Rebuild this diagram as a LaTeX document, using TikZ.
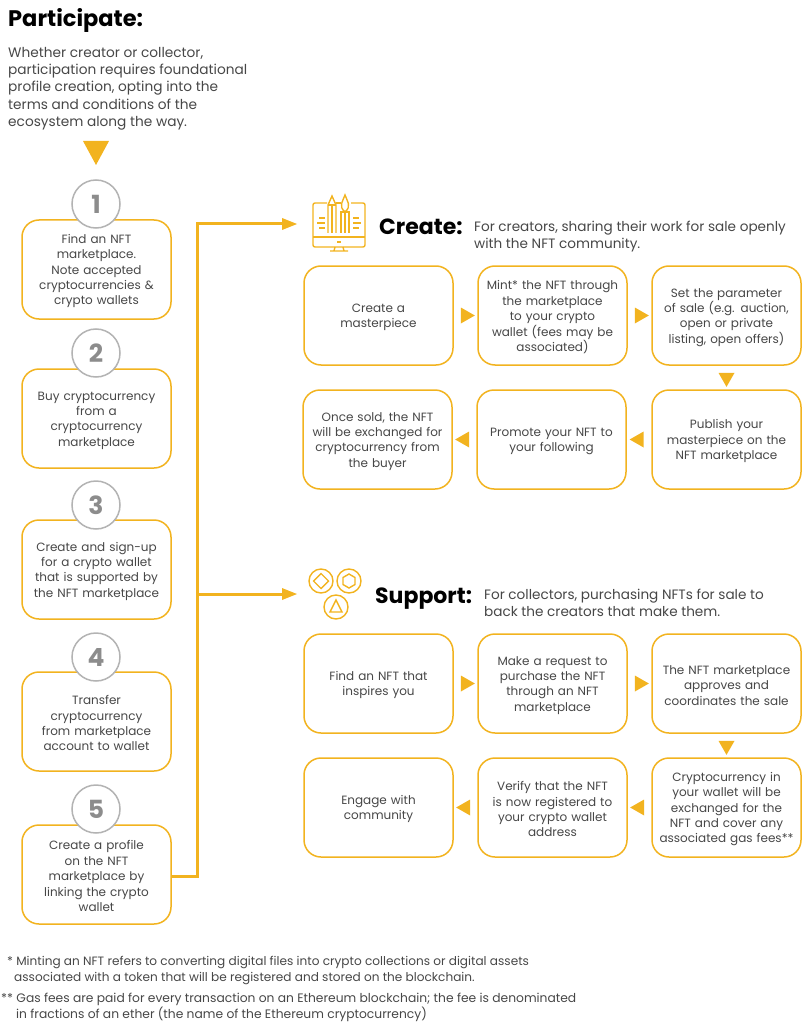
\documentclass[tikz,border=0pt]{standalone}
\usepackage{fontspec}
\setmainfont{Poppins}
\usepackage{tikz}
\usetikzlibrary{arrows.meta,shapes.geometric,calc}
\definecolor{gold}{HTML}{F2B31F}
\definecolor{ink}{HTML}{474747}
\definecolor{ringgray}{HTML}{B3B3B3}
\definecolor{numgray}{HTML}{8C8C8C}
\tikzset{
  card/.style={draw=gold, line width=1.5pt, rounded corners=17pt, fill=white, minimum width=149pt, minimum height=99pt,
    inner sep=0pt, align=center, text=ink, font=\fontsize{12}{15.4}\selectfont, text width=146pt,
    execute at begin node={\rule{0pt}{12.5pt}}},
  ring/.style={circle, draw=ringgray, line width=1.5pt, fill=white, minimum size=48pt, inner sep=0pt, text=numgray,
    font=\fontsize{25}{25}\selectfont\bfseries},
  pointer/.style={isosceles triangle, isosceles triangle stretches, fill=gold, minimum height=14pt, minimum width=16pt, inner sep=0pt},
  trunk/.style={draw=gold, line width=3pt},
  icon/.style={draw=gold, line width=1.4pt},
  head/.style={anchor=base west, inner sep=0pt, font=\fontsize{22}{22}\selectfont\bfseries},
  blurb/.style={anchor=north west, inner sep=0pt, align=left, text=ink},
}
\begin{document}
\begin{tikzpicture}[x=1pt,y=-1pt]
    \useasboundingbox (0,0) rectangle (802,1024);

    % participate text
    \node[head, font=\fontsize{22.5}{23}\selectfont\bfseries] (title) at (8,27) {Participate:};
    \node[blurb, font=\fontsize{13.7}{17.3}\selectfont] (intro) at (8,47) {Whether creator or collector,\\participation requires foundational\\profile creation, opting into the\\terms and conditions of the\\ecosystem along the way.};
    \fill[gold] (83,141) -- (109,141) -- (96,165) -- cycle;

    % steps
    \node[card] (box1) at (96.5,269.5) {Find an NFT\\marketplace.\\Note accepted\\cryptocurrencies \&\\crypto wallets};
    \node[card] (box2) at (96.5,418.5) {Buy cryptocurrency\\from a\\cryptocurrency\\marketplace};
    \node[card] (box3) at (96.5,569.5) {Create and sign-up\\for a crypto wallet\\that is supported by\\the NFT marketplace};
    \node[card] (box4) at (96.5,721.5) {Transfer\\cryptocurrency\\from marketplace\\account to wallet};
    \node[card] (box5) at (96.5,874.5) {Create a profile\\on the NFT\\marketplace by\\linking the crypto\\wallet};
    \node[ring] (num1) at (96,204) {1};
    \node[ring] (num2) at (96,353) {2};
    \node[ring] (num3) at (96,505) {3};
    \node[ring] (num4) at (96,657) {4};
    \node[ring] (num5) at (96,809) {5};

    % trunk line
    \coordinate (fork) at (197,594);
    \coordinate (top) at (197,224);
    \coordinate (createin) at (297,224);
    \coordinate (supportin) at (297,594);
    \draw[trunk] (box5.east |- 0,876) -- (197,876) -- (top) -- (282,224);
    \draw[trunk] (fork) -- (282,594);
    \fill[gold] (282,218) -- (createin) -- (282,230) -- cycle;
    \fill[gold] (282,588) -- (supportin) -- (282,600) -- cycle;

    % create icon
    \draw[icon, rounded corners=2pt] (327,203) -- (313,203) -- (313,247) -- (365,247) -- (365,203) -- (351,203);
    \draw[icon] (313,237) -- (365,237);
    \draw[icon] (336,203) -- (341,203);
    \draw[icon] (335,247) -- (334,251) (343,247) -- (344,251) (330,251) -- (348,251);
    \draw[icon] (337,242) -- (341,242);
    \draw[icon] (328,233) -- (328,205) -- (332,196) -- (336,205) -- (336,233);
    \draw[icon] (328,205) -- (336,205) (332,205) -- (332,233);
    \draw[icon] (341,233) -- (341,212) -- (349,212) -- (349,233);
    \draw[icon] (345,212) .. controls (338,206) and (343,201) .. (345,195) .. controls (347,201) and (352,206) .. (345,212);
    \draw[icon] (345,212) -- (345,233);
    \draw[icon] (319,218) -- (325,218) (317,223) -- (325,223) (319,228) -- (325,228);
    \draw[icon] (353,218) -- (359,218) (353,223) -- (361,223) (353,228) -- (359,228);

    % create text
    \node[head] (createhead) at (379,235) {Create:};
    \node[blurb, font=\fontsize{13.6}{17}\selectfont] (createtext) at (474,221) {For creators, sharing their work for sale openly\\with the NFT community.};

    % create boxes
    \node[card] (mk1) at (378.5,315.5) {Create a\\masterpiece};
    \node[card] (mk2) at (552.5,315.5) {Mint* the NFT through\\the marketplace\\to your crypto\\wallet (fees may be\\associated)};
    \node[card] (mk3) at (726.5,315.5) {Set the parameter\\of sale (e.g. auction,\\open or private\\listing, open offers)};
    \node[card] (mk4) at (726.5,439.5) {Publish your\\masterpiece on the\\NFT marketplace};
    \node[card] (mk5) at (551.5,439.5) {Promote your NFT to\\your following};
    \node[card] (mk6) at (377.5,439.5) {Once sold, the NFT\\will be exchanged for\\cryptocurrency from\\the buyer};
    \node[pointer] (mkt1) at ($(mk1.east)!0.5!(mk2.west)$) {};
    \node[pointer] (mkt2) at ($(mk2.east)!0.5!(mk3.west)$) {};
    \node[pointer, rotate=-90] (mkt3) at ($(mk3.south)!0.5!(mk4.north)$) {};
    \node[pointer, rotate=180] (mkt4) at ($(mk4.west)!0.5!(mk5.east)$) {};
    \node[pointer, rotate=180] (mkt5) at ($(mk5.west)!0.5!(mk6.east)$) {};

    % support icon
    \draw[icon] (321,581) circle (12);
    \draw[icon] (349,581) circle (12);
    \draw[icon] (336,607) circle (12);
    \draw[icon] (321,573.5) -- (328.5,581) -- (321,588.5) -- (313.5,581) -- cycle;
    \draw[icon] (349,574) -- (355,577.5) -- (355,584.5) -- (349,588) -- (343,584.5) -- (343,577.5) -- cycle;
    \draw[icon] (336,600) -- (342,612) -- (330,612) -- cycle;

    % support text
    \node[head] (supporthead) at (375,603) {Support:};
    \node[blurb, font=\fontsize{13.6}{17}\selectfont] (supporttext) at (484,589) {For collectors, purchasing NFTs for sale to\\back the creators that make them.};

    % support boxes
    \node[card] (sp1) at (378.5,683.5) {Find an NFT that\\inspires you};
    \node[card] (sp2) at (552.5,683.5) {Make a request to\\purchase the NFT\\through an NFT\\marketplace};
    \node[card] (sp3) at (726.5,683.5) {The NFT marketplace\\approves and\\coordinates the sale};
    \node[card] (sp4) at (726.5,807.5) {Cryptocurrency in\\your wallet will be\\exchanged for the\\NFT and cover any\\associated gas fees**};
    \node[card] (sp5) at (552.5,807.5) {Verify that the NFT\\is now registered to\\your crypto wallet\\address};
    \node[card] (sp6) at (378.5,807.5) {Engage with\\community};
    \node[pointer] (spt1) at ($(sp1.east)!0.5!(sp2.west)$) {};
    \node[pointer] (spt2) at ($(sp2.east)!0.5!(sp3.west)$) {};
    \node[pointer, rotate=-90] (spt3) at ($(sp3.south)!0.5!(sp4.north)$) {};
    \node[pointer, rotate=180] (spt4) at ($(sp4.west)!0.5!(sp5.east)$) {};
    \node[pointer, rotate=180] (spt5) at ($(sp5.west)!0.5!(sp6.east)$) {};

    % footnotes
    \node[blurb, font=\fontsize{12.1}{16}\selectfont] (note1) at (7,956) {* Minting an NFT refers to converting digital files into crypto collections or digital assets\\\hspace*{7pt}associated with a token that will be registered and stored on the blockchain.};
    \node[blurb, font=\fontsize{12.3}{16}\selectfont] (note2) at (1,993) {** Gas fees are paid for every transaction on an Ethereum blockchain; the fee is denominated\\\hspace*{15pt}in fractions of an ether (the name of the Ethereum cryptocurrency)};
\end{tikzpicture}
\end{document}
